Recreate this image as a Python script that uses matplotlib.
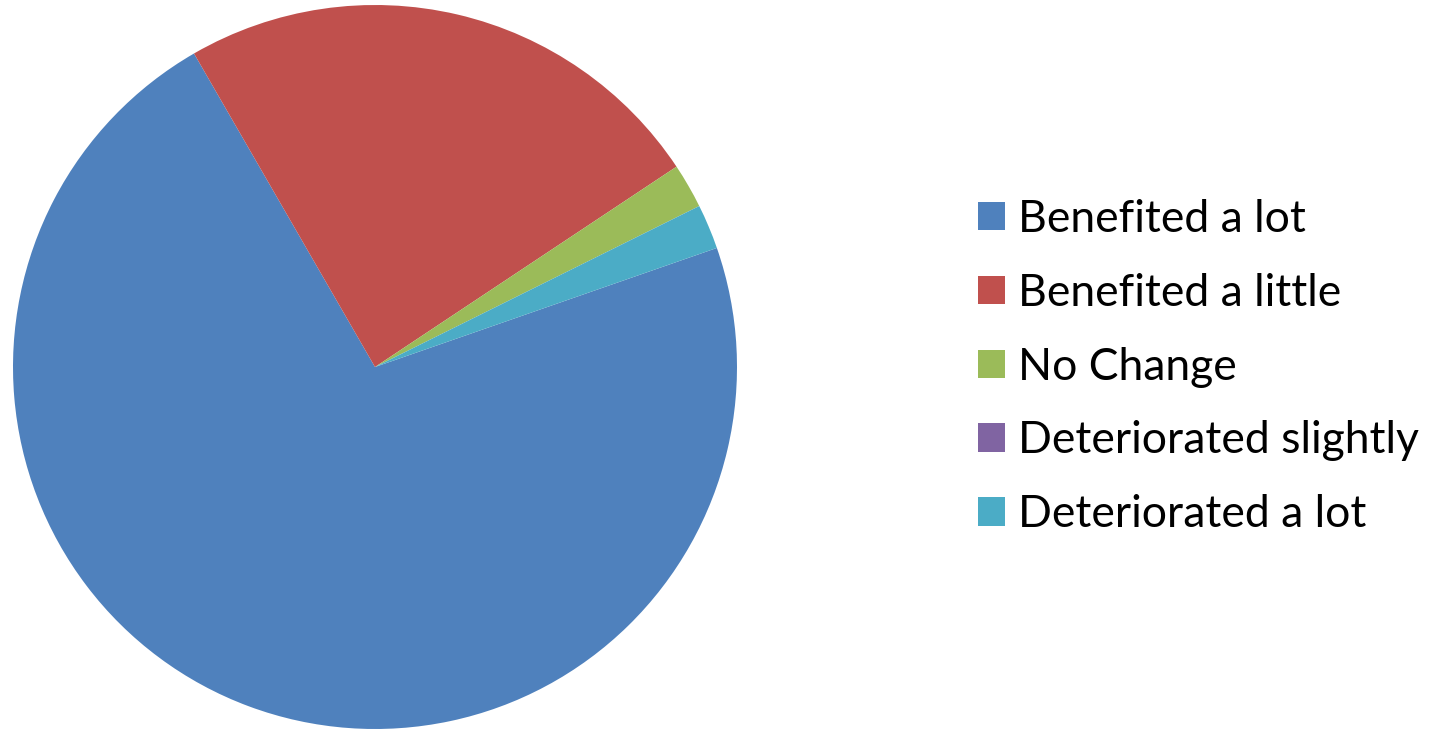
import matplotlib.pyplot as plt
from matplotlib.patches import Patch

# Responses (counts)
labels = ['Benefited a lot', 'Benefited a little', 'No Change',
          'Deteriorated slightly', 'Deteriorated a lot']
counts = [36, 12, 1, 0, 1]
colors = ['#4F81BD', '#C0504D', '#9BBB59', '#8064A2', '#4BACC6']

plt.rcParams['font.family'] = ['Lato', 'DejaVu Sans']

fig = plt.figure(figsize=(14.35, 7.29), dpi=100)
W, H = 1435, 729
cx, cy, r = 375, 729 - 367, 362
ax = fig.add_axes([(cx - r) / W, (cy - r) / H, 2 * r / W, 2 * r / H])

ax.pie(counts, colors=colors, startangle=19.2, counterclock=False,
       radius=1, wedgeprops=dict(linewidth=0))
ax.set_xlim(-1, 1)
ax.set_ylim(-1, 1)
ax.set_aspect('equal')
ax.axis('off')

handles = [Patch(facecolor=c, edgecolor='none') for c in colors]
fig.legend(handles, labels, loc='center left', bbox_to_anchor=(978 / W, 1 - 367 / H),
           frameon=False, fontsize=32, handlelength=0.61, handleheight=0.61,
           handletextpad=0.3, labelspacing=0.74, borderpad=0, borderaxespad=0)

fig.savefig('out.png', dpi=100)
